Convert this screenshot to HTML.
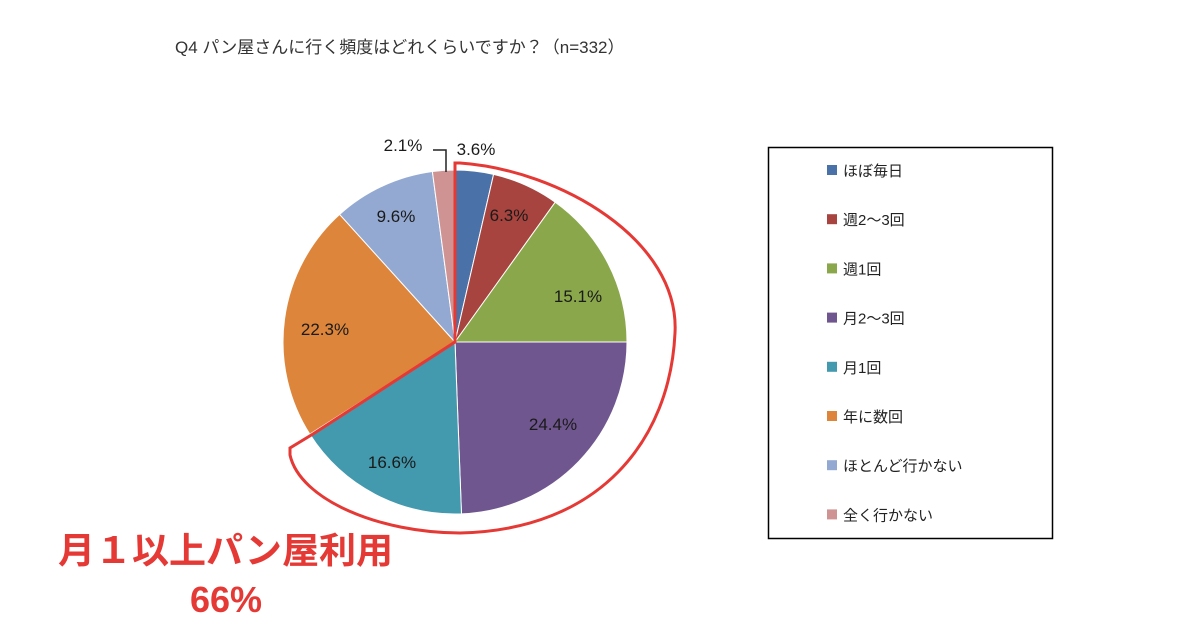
<!DOCTYPE html>
<html><head><meta charset="utf-8"><style>
html,body{margin:0;padding:0;background:#fff;width:1200px;height:630px;overflow:hidden}
svg text{font-family:"Liberation Sans","Noto Sans CJK JP",sans-serif}
</style></head><body>
<svg id="s" width="1200" height="630" viewBox="0 0 1200 630">
<rect width="1200" height="630" fill="#fff"/>
<text x="175" y="53" font-size="17" fill="#333">Q4 パン屋さんに行く頻度はどれくらいですか？（n=332）</text>
<g id="pie"></g>
<g font-size="17" fill="#1a1a1a" text-anchor="middle">
<text x="476" y="155">3.6%</text>
<text x="403" y="151">2.1%</text>
<text x="509" y="221">6.3%</text>
<text x="578" y="302">15.1%</text>
<text x="553" y="430">24.4%</text>
<text x="392" y="468">16.6%</text>
<text x="325" y="335">22.3%</text>
<text x="396" y="222">9.6%</text>
</g>
<path d="M433 150 H446 V172" fill="none" stroke="#222" stroke-width="1.5"/>
<path d="M455 342 V163 H460 C560 170 680 240 675 333 C670 440 600 530 460 533 C380 533 300 500 290 455 L290 448 L313 434 L455 342 Z" fill="none" stroke="#e53935" stroke-width="3"/>
<rect x="768.5" y="147.5" width="284" height="391" fill="#fff" stroke="#000" stroke-width="1.5"/>
<g id="leg" font-size="15" fill="#222"></g>
<text x="58" y="563" font-size="36" font-weight="bold" fill="#e53935" textLength="335" lengthAdjust="spacingAndGlyphs">月１以上パン屋利用</text>
<text x="226" y="612" font-size="36" font-weight="bold" fill="#e53935" text-anchor="middle">66%</text>
</svg>
<script>
var v=[3.6,6.3,15.1,24.4,16.6,22.3,9.6,2.1];
var c=["#4a72a8","#a8443f","#8aa84b","#70568f","#4399ad","#dd853b","#93a9d1","#d09393"];
var n=["ほぼ毎日","週2～3回","週1回","月2～3回","月1回","年に数回","ほとんど行かない","全く行かない"];
var cx=455,cy=342,r=172,a=0,g=document.getElementById("pie"),h="";
for(var i=0;i<8;i++){var a1=a+v[i]/100*2*Math.PI;
var x0=cx+r*Math.sin(a),y0=cy-r*Math.cos(a),x1=cx+r*Math.sin(a1),y1=cy-r*Math.cos(a1);
h+='<path d="M'+cx+' '+cy+' L'+x0+' '+y0+' A'+r+' '+r+' 0 '+(v[i]>50?1:0)+' 1 '+x1+' '+y1+' Z" fill="'+c[i]+'" stroke="#fff" stroke-width="1"/>';a=a1;}
g.innerHTML=h;h="";
for(var i=0;i<8;i++){var y=170+i*49.2;
h+='<rect x="827" y="'+(y-5)+'" width="10" height="10" fill="'+c[i]+'"/><text x="843" y="'+(y+6)+'">'+n[i]+'</text>';}
document.getElementById("leg").innerHTML=h;
</script>
</body></html>
